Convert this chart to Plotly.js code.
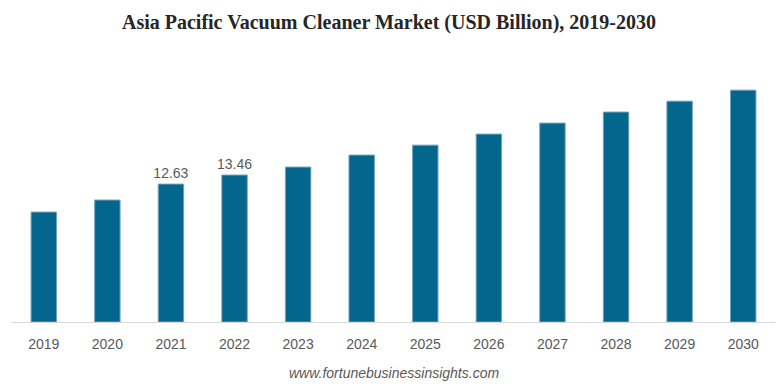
<!DOCTYPE html>
<html>
<head>
<meta charset="utf-8">
<script src="https://cdn.plot.ly/plotly-3.0.1.min.js"></script>
<style>html,body{margin:0;padding:0;background:#fff;}#chart{width:778px;height:387px;}</style>
</head>
<body>
<div id="chart"></div>
<script>
const years = ['2019','2020','2021','2022','2023','2024','2025','2026','2027','2028','2029','2030'];
const marketValues = [10.07, 11.17, 12.63, 13.46, 14.19, 15.29, 16.20, 17.21, 18.22, 19.23, 20.23, 21.24];
const labelYears = ['2021', '2022'];

const labels = years.map((y, i) => labelYears.includes(y) ? marketValues[i].toFixed(2) : '');

const trace = {
  type: 'bar',
  x: years,
  y: marketValues,
  text: labels,
  textposition: 'outside',
  constraintext: 'none',
  cliponaxis: false,
  textfont: {family: 'Liberation Sans, Arial, sans-serif', size: 14, color: '#595959'},
  marker: {color: '#05668d', line: {color: '#6fa3bc', width: 1}},
  hoverinfo: 'x+y'
};

const layout = {
  width: 778, height: 387,
  margin: {l: 12, r: 3, t: 60, b: 65},
  paper_bgcolor: '#ffffff', plot_bgcolor: '#ffffff',
  bargap: 0.6,
  showlegend: false,
  title: {
    text: '<b>Asia Pacific Vacuum Cleaner Market (USD Billion), 2019-2030</b>',
    font: {family: 'Liberation Serif, Times New Roman, serif', size: 20, color: '#262626'},
    x: 0.5, xanchor: 'center', y: 0.943, yanchor: 'middle'
  },
  xaxis: {
    type: 'category',
    showline: true, linecolor: '#d9d9d9', linewidth: 1,
    showgrid: false, zeroline: false, ticks: '',
    ticklabelstandoff: 9,
    tickfont: {family: 'Liberation Sans, Arial, sans-serif', size: 14, color: '#595959'}
  },
  yaxis: {
    range: [0, 24], visible: false, showgrid: false, zeroline: false
  },
  annotations: [{
    text: '<i>www.fortunebusinessinsights.com</i>',
    xref: 'paper', yref: 'paper', x: 0.5, y: -0.195, xanchor: 'center', yanchor: 'middle',
    showarrow: false,
    font: {family: 'Liberation Sans, Arial, sans-serif', size: 14, color: '#595959'}
  }]
};

Plotly.newPlot('chart', [trace], layout, {displayModeBar: false, staticPlot: true});
</script>
</body>
</html>
